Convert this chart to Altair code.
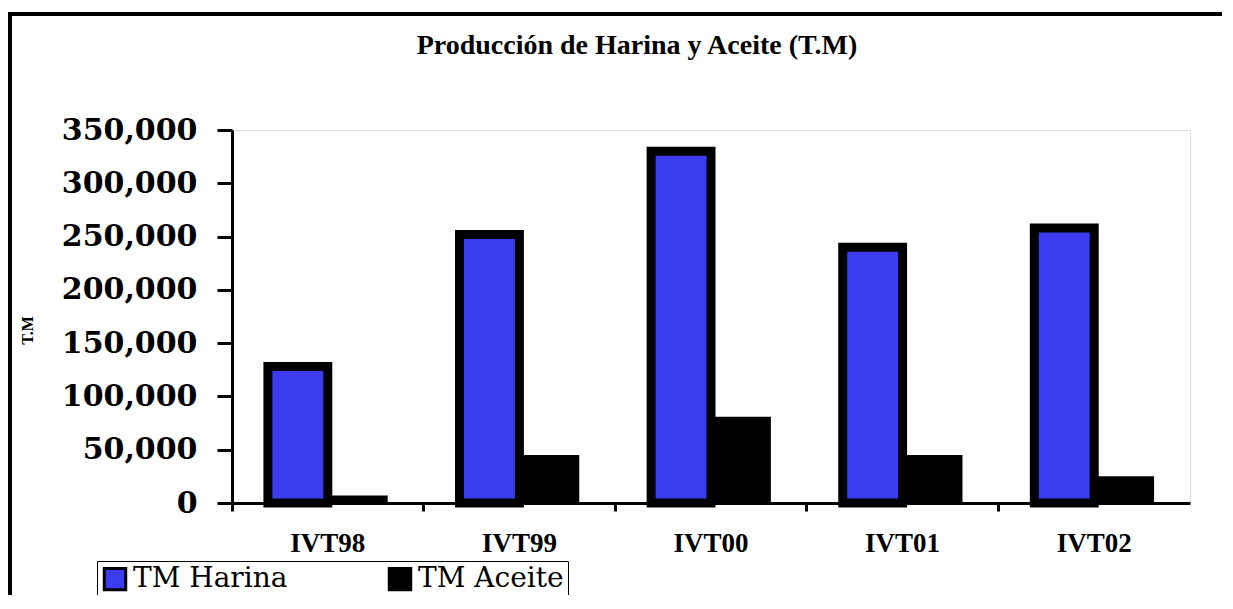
import altair as alt
import pandas as pd

titulo = "Producción de Harina y Aceite (T.M)"
periodos = ["IVT98", "IVT99", "IVT00", "IVT01", "IVT02"]
harina = [128000, 252000, 330000, 240000, 258000]
aceite = [7000, 45000, 81000, 45000, 25000]
series = ["TM Harina", "TM Aceite"]
colores = ["#3b3bef", "#000000"]

rows = []
for p, h, a in zip(periodos, harina, aceite):
    rows.append({"periodo": p, "serie": series[0], "tm": h})
    rows.append({"periodo": p, "serie": series[1], "tm": a})
df = pd.DataFrame(rows)

bars = alt.Chart(df).mark_bar(stroke="black").encode(
    x=alt.X("periodo:N", sort=periodos,
            scale=alt.Scale(paddingInner=0, paddingOuter=0),
            axis=alt.Axis(title=None, labelAngle=0, bandPosition=0,
                          labelFont="Liberation Serif", labelFontWeight="bold",
                          labelFontSize=27, labelColor="black", labelPadding=19,
                          tickSize=8, tickWidth=3, tickColor="black",
                          domainColor="black", domainWidth=3)),
    xOffset=alt.XOffset("serie:N", sort=series,
                        scale=alt.Scale(paddingOuter=0.6, paddingInner=0)),
    y=alt.Y("tm:Q", scale=alt.Scale(domain=[0, 350000], nice=False),
            axis=alt.Axis(title="T.M", values=list(range(0, 350001, 50000)),
                          format=",d", grid=False,
                          labelFont="DejaVu Serif", labelFontWeight="bold",
                          labelFontSize=30, labelColor="black", labelPadding=20,
                          tickSize=15, tickWidth=3, tickColor="black",
                          domainColor="black", domainWidth=3,
                          titleFont="Liberation Serif", titleFontWeight="bold",
                          titleFontSize=16, titleColor="black",
                          titleX=-197, titleY=200)),
    color=alt.Color("serie:N", sort=series,
                    scale=alt.Scale(domain=series, range=colores),
                    legend=alt.Legend(title=None, orient="none", direction="horizontal",
                                      legendX=-135, legendY=431,
                                      labelFont="DejaVu Serif", labelFontSize=28,
                                      labelColor="black", symbolType="square",
                                      symbolSize=460, symbolStrokeColor="black",
                                      symbolStrokeWidth=3, columnPadding=95,
                                      strokeColor="black", padding=4,
                                      labelLimit=400)),
    strokeWidth=alt.condition(alt.datum.serie == "TM Harina", alt.value(9), alt.value(0)),
)

border = alt.Chart(pd.DataFrame({"k": [0]})).mark_rect(
    fill=None, stroke="black", strokeWidth=4
).encode(
    x=alt.value(-222), x2=alt.value(1040),
    y=alt.value(-116), y2=alt.value(600),
)

title_text = alt.Chart(pd.DataFrame({"t": [titulo]})).mark_text(
    font="Liberation Serif", fontWeight="bold", fontSize=28, color="black",
    align="center", baseline="middle"
).encode(
    text="t:N", x=alt.value(405), y=alt.value(-84),
)

chart = alt.layer(border, bars, title_text).properties(
    width=958, height=373,
    autosize=alt.AutoSizeParams(type="none"),
    padding={"left": 224, "top": 122, "right": 32, "bottom": 92},
).configure_view(stroke="black", strokeWidth=3).configure(background="white")

chart.save("out.html", embed_options={"renderer": "svg", "actions": False})
